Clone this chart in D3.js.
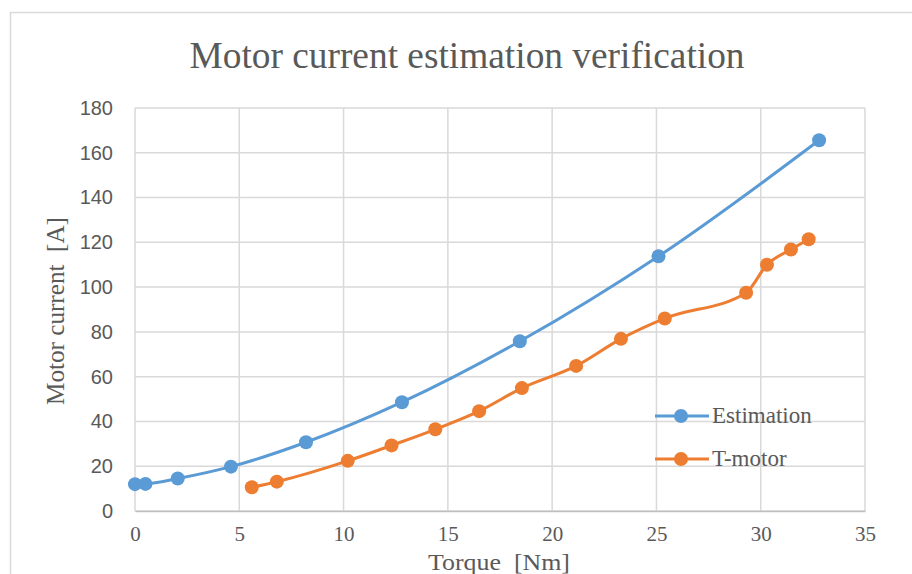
<!DOCTYPE html>
<html><head><meta charset="utf-8">
<script src="https://cdn.jsdelivr.net/npm/d3@7"></script>
<style>body{margin:0;background:#fff}svg{display:block}</style>
</head><body>
<svg id="c" width="912" height="574"></svg>
<script>
const estTorque = [0, 0.5, 2.05, 4.6, 8.2, 12.8, 18.45, 25.1, 32.8];
const estCurrent = [12, 12.1, 14.5, 19.8, 30.7, 48.6, 75.8, 113.8, 165.6];
const tmTorque = [5.6, 6.8, 10.2, 12.3, 14.4, 16.5, 18.55, 21.15, 23.3, 25.4, 29.3, 30.3, 31.45, 32.3];
const tmCurrent = [10.6, 13.1, 22.4, 29.3, 36.5, 44.6, 54.9, 64.8, 76.9, 86.0, 97.5, 110.0, 116.8, 121.4];
const xTicks = [0, 5, 10, 15, 20, 25, 30, 35];
const yTicks = [0, 20, 40, 60, 80, 100, 120, 140, 160, 180];
const seriesNames = ["Estimation", "T-motor"];
const seriesColors = ["#5b9bd5", "#ed7d31"];

const svg = d3.select("#c");
const x = d3.scaleLinear().domain([0, 35]).range([135, 865]);
const y = d3.scaleLinear().domain([0, 180]).range([511, 108]);

// outer frame
svg.append("path").attr("d", "M10.5,574 V12.5 H912").attr("fill", "none").attr("stroke", "#d9d9d9").attr("stroke-width", 1.5);

// title
svg.append("text").attr("x", 467).attr("y", 68).attr("text-anchor", "middle")
  .attr("font-family", "Liberation Serif").attr("font-size", 38).attr("fill", "#595959")
  .attr("textLength", 555).attr("lengthAdjust", "spacingAndGlyphs")
  .text("Motor current estimation verification");

// grid
const g = svg.append("g");
g.selectAll(".hy").data(yTicks).join("line")
  .attr("x1", x(0)).attr("x2", x(35)).attr("y1", d => y(d)).attr("y2", d => y(d))
  .attr("stroke", "#d9d9d9").attr("stroke-width", 1.5);
g.selectAll(".vx").data(xTicks).join("line")
  .attr("y1", y(0)).attr("y2", y(180)).attr("x1", d => x(d)).attr("x2", d => x(d))
  .attr("stroke", "#d9d9d9").attr("stroke-width", 1.5);

// axes tick labels via d3 axes
const yAxis = svg.append("g").attr("transform", `translate(${x(0)},0)`)
  .call(d3.axisLeft(y).tickValues(yTicks).tickSize(0).tickPadding(22));
yAxis.select(".domain").remove();
yAxis.selectAll("text").attr("font-family", "Liberation Sans").attr("font-size", 20).attr("fill", "#595959");

const xAxis = svg.append("g").attr("transform", `translate(0,${y(0)})`)
  .call(d3.axisBottom(x).tickValues(xTicks).tickSize(0).tickPadding(15));
xAxis.select(".domain").attr("stroke", "#bfbfbf").attr("stroke-width", 1.5);
xAxis.selectAll("text").attr("font-family", "Liberation Serif").attr("font-size", 21).attr("fill", "#595959");

// axis titles
svg.append("text").attr("x", 499).attr("y", 570).attr("text-anchor", "middle")
  .attr("font-family", "Liberation Serif").attr("font-size", 23).attr("fill", "#595959")
  .attr("textLength", 142).attr("lengthAdjust", "spacingAndGlyphs")
  .attr("xml:space", "preserve").text("Torque  [Nm]");
svg.append("text").attr("transform", "translate(64,311) rotate(-90)").attr("text-anchor", "middle")
  .attr("font-family", "Liberation Serif").attr("font-size", 25).attr("fill", "#595959")
  .attr("textLength", 188).attr("lengthAdjust", "spacingAndGlyphs")
  .attr("xml:space", "preserve").text("Motor current  [A]");

// series
const data = [
  estTorque.map((t, i) => [t, estCurrent[i]]),
  tmTorque.map((t, i) => [t, tmCurrent[i]])
];
const line = d3.line().x(d => x(d[0])).y(d => y(d[1])).curve(d3.curveMonotoneX);
data.forEach((pts, k) => {
  svg.append("path").attr("d", line(pts)).attr("fill", "none")
    .attr("stroke", seriesColors[k]).attr("stroke-width", 3);
  svg.append("g").selectAll("circle").data(pts).join("circle")
    .attr("cx", d => x(d[0])).attr("cy", d => y(d[1])).attr("r", 7)
    .attr("fill", seriesColors[k]);
});

// legend
const leg = svg.append("g");
seriesNames.forEach((n, k) => {
  const ly = 416 + k * 43;
  leg.append("line").attr("x1", 655).attr("x2", 709).attr("y1", ly).attr("y2", ly)
    .attr("stroke", seriesColors[k]).attr("stroke-width", 3);
  leg.append("circle").attr("cx", 681).attr("cy", ly).attr("r", 7).attr("fill", seriesColors[k]);
  leg.append("text").attr("x", 712).attr("y", ly + 7)
    .attr("font-family", "Liberation Serif").attr("font-size", 23).attr("fill", "#595959").text(n);
});
</script>
</body></html>
